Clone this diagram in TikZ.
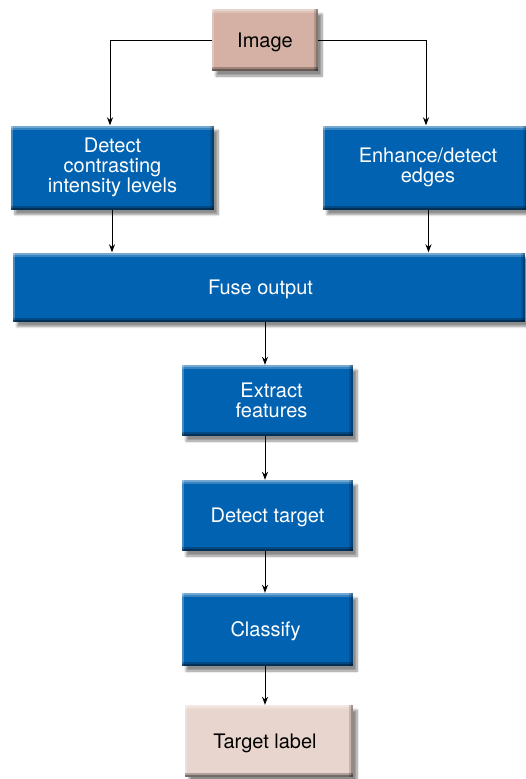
\documentclass[tikz,border=0pt]{standalone}
\usepackage{fontspec}
\setmainfont{TeX Gyre Heros}
\usetikzlibrary{arrows.meta,shadows.blur}

\definecolor{boxblue}{RGB}{0,98,176}
\definecolor{boxtan}{RGB}{212,177,164}
\definecolor{boxpale}{RGB}{232,213,205}

\tikzset{
  bevel/.style={
    path picture={
      \coordinate (bnw) at (path picture bounding box.north west);
      \coordinate (bne) at (path picture bounding box.north east);
      \coordinate (bsw) at (path picture bounding box.south west);
      \coordinate (bse) at (path picture bounding box.south east);
      % light top and left edges
      \fill[white,opacity=0.45] (bnw) rectangle ([yshift=-2pt]bne);
      \fill[white,opacity=0.22] ([yshift=-2pt]bnw) rectangle ([yshift=-4pt]bne);
      \fill[white,opacity=0.25] (bnw) rectangle ([xshift=2pt]bsw);
      % dark bottom and right edges
      \fill[black,opacity=0.5] (bsw) rectangle ([yshift=2pt]bse);
      \fill[black,opacity=0.25] ([yshift=2pt]bsw) rectangle ([yshift=4pt]bse);
      \fill[black,opacity=0.35] (bse) rectangle ([xshift=-2pt]bne);
      \fill[black,opacity=0.15] ([xshift=-2pt]bse) rectangle ([xshift=-4pt]bne);
    }},
  box/.style={rectangle, inner sep=0pt, align=center, bevel,
    font=\fontsize{20}{20}\selectfont,
    blur shadow={shadow xshift=4pt, shadow yshift=-5pt, shadow opacity=45, shadow blur steps=8}},
  oneline/.style={text depth=0pt},
  bluebox/.style={box, fill=boxblue, text=white},
  tanbox/.style={box, fill=boxtan, text=black},
  palebox/.style={box, fill=boxpale, text=black},
  arrow/.style={draw=black, line width=0.9pt, -{Stealth[length=8pt,width=6pt]}},
}

\begin{document}
\begin{tikzpicture}[x=1pt,y=-1pt]
  \useasboundingbox (0,0) rectangle (525,779);

  \node[tanbox, oneline, minimum width=106pt, minimum height=62pt] (img) at (265,40) {Image};
  \node[bluebox, minimum width=203pt, minimum height=84pt] (det) at (112.5,167.5) {Detect\\contrasting\\intensity levels};
  \node[bluebox, minimum width=204pt, minimum height=84pt] (enh) at (425,167.5) {\hspace*{6pt}Enhance/detect\\\hspace*{6pt}edges};
  \node[bluebox, oneline, minimum width=512pt, minimum height=69pt] (fuse) at (269,287) {\hspace*{-17pt}Fuse output};
  \node[bluebox, minimum width=171pt, minimum height=71pt] (ext) at (267.5,400.5) {\hspace*{8pt}Extract\\\hspace*{8pt}features};
  \node[bluebox, oneline, minimum width=171pt, minimum height=71pt] (dt) at (267.5,515.5) {Detect target};
  \node[bluebox, oneline, minimum width=171pt, minimum height=73pt] (cls) at (267.5,629.5) {\hspace*{-4pt}Classify};
  \node[palebox, oneline, minimum width=168pt, minimum height=72pt] (lbl) at (269,741) {\hspace*{-8pt}Target label};

  \draw[arrow] (img.west) -| ([xshift=-2.5pt]det.north);
  \draw[arrow] (img.east) -| ([xshift=1pt]enh.north);
  \draw[arrow] ([xshift=-0.5pt]det.south) -- ([xshift=-0.5pt]det.south |- fuse.north);
  \draw[arrow] ([xshift=3.5pt]enh.south) -- ([xshift=3.5pt]enh.south |- fuse.north);
  \draw[arrow] ([xshift=-4pt]fuse.south) -- ([xshift=-4pt]fuse.south |- ext.north);
  \draw[arrow] ([xshift=-2.5pt]ext.south) -- ([xshift=-2.5pt]ext.south |- dt.north);
  \draw[arrow] ([xshift=-2.5pt]dt.south) -- ([xshift=-2.5pt]dt.south |- cls.north);
  \draw[arrow] ([xshift=-2.5pt]cls.south) -- ([xshift=-2.5pt]cls.south |- lbl.north);
\end{tikzpicture}
\end{document}
